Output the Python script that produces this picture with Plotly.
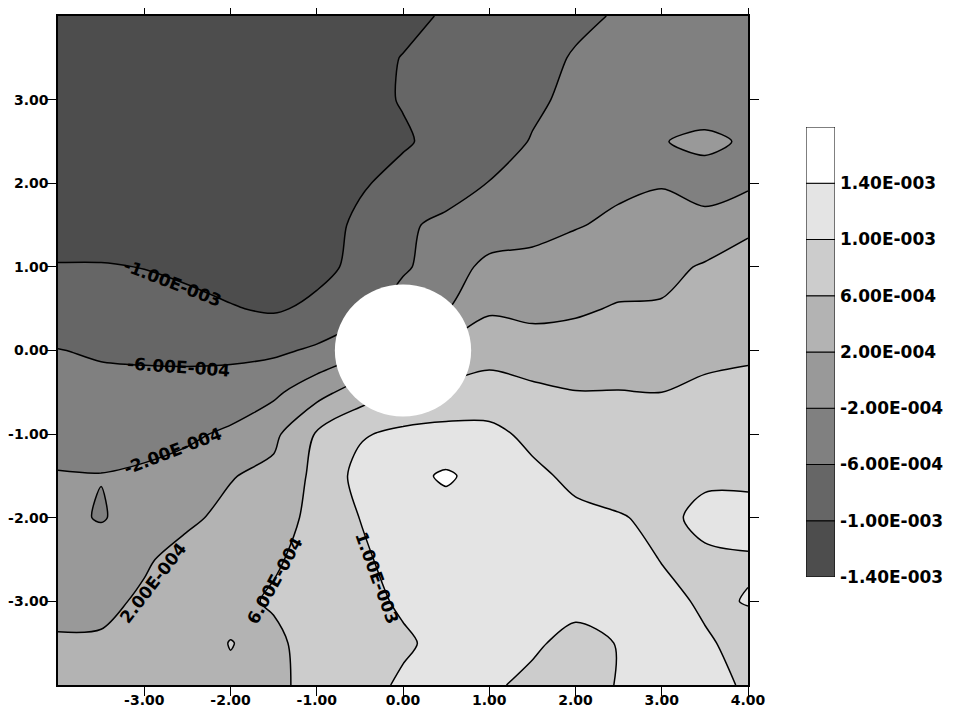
import plotly.graph_objects as go

# ---------------- data ----------------
x_vals = [-4.0, -3.5, -3.0, -2.5, -2.0, -1.5, -1.0, -0.5, 0.0, 0.5, 1.0, 1.5, 2.0, 2.5, 3.0, 3.5, 4.0]
y_top_down = [4.0, 3.5, 3.0, 2.5, 2.0, 1.5, 1.0, 0.5, 0.0, -0.5, -1.0, -1.5, -2.0, -2.5, -3.0, -3.5, -4.0]

# field values in units of 1E-004, rows from y = 4 (top) down to y = -4 (bottom)
z_rows_e4 = [
    [-12.5, -12.5, -12.5, -12.5, -12.5, -12.3, -12.0, -11.5, -10.8, -9.7, -8.7, -7.8, -6.5, -5.8, -5.0, -4.6, -4.3],
    [-12.5, -12.5, -12.5, -12.5, -12.5, -12.4, -12.0, -11.0, -9.9, -8.9, -7.8, -6.8, -5.8, -5.1, -4.2, -3.8, -3.5],
    [-12.5, -12.5, -12.5, -12.5, -12.5, -12.4, -12.0, -11.0, -9.8, -8.7, -7.6, -6.6, -5.2, -4.3, -3.5, -3.3, -3.0],
    [-12.5, -12.5, -12.5, -12.5, -12.5, -12.3, -11.8, -11.2, -10.4, -8.9, -7.6, -5.8, -4.3, -3.3, -2.1, -1.5, -2.3],
    [-12.5, -12.5, -12.5, -12.5, -12.3, -12.0, -11.3, -10.4, -8.9, -7.4, -5.9, -4.4, -3.2, -2.6, -2.2, -3.0, -2.8],
    [-12.6, -12.6, -12.5, -12.5, -12.4, -12.2, -11.6, -9.3, -6.5, -5.3, -4.2, -3.1, -2.2, -1.4, -0.7, -1.2, 1.5],
    [-9.7, -9.7, -10.1, -10.8, -11.3, -11.7, -10.9, -9.2, -6.6, -3.8, -1.0, -1.0, -0.4, 0.4, 0.8, 2.45, 3.1],
    [-8.2, -8.1, -8.4, -8.9, -9.8, -10.4, -9.3, -7.5, -4.0, -2.3, 1.5, 1.0, 1.5, 2.3, 2.4, 3.85, 4.35],
    [-5.9, -6.4, -6.6, -6.8, -6.9, -6.7, -5.4, -3.0, 0.0, 3.0, 4.5, 3.8, 3.7, 4.2, 4.2, 5.2, 5.55],
    [-4.6, -4.9, -4.9, -4.7, -4.2, -2.8, 0.6, 4.0, 6.0, 7.0, 7.7, 6.8, 6.1, 6.1, 6.0, 6.6, 6.8],
    [-3.3, -3.3, -3.1, -2.6, -1.4, 1.1, 6.4, 9.6, 10.9, 11.3, 11.0, 9.1, 7.7, 7.4, 7.0, 8.0, 8.3],
    [-1.8, -1.9, -1.5, -0.6, 1.8, 3.0, 7.0, 11.2, 12.8, 14.5, 12.5, 10.8, 9.2, 8.7, 8.0, 9.6, 9.5],
    [-0.9, -2.3, -0.2, 1.4, 2.9, 4.2, 7.2, 10.05, 12.2, 12.5, 12.4, 12.2, 10.8, 10.2, 9.4, 10.6, 10.8],
    [0.2, 0.3, 1.6, 3.2, 3.9, 5.5, 7.5, 9.3, 11.5, 12.3, 12.5, 12.5, 12.2, 11.3, 9.9, 9.6, 9.8],
    [1.2, 1.2, 2.5, 3.8, 4.9, 6.5, 8.0, 9.1, 10.4, 12.0, 12.3, 12.0, 10.8, 11.3, 10.8, 9.6, 10.1],
    [2.3, 2.4, 3.6, 4.5, 6.1, 5.0, 8.0, 8.8, 9.6, 10.8, 11.2, 10.4, 9.2, 10.1, 10.4, 10.3, 9.2],
    [3.0, 3.0, 3.8, 4.4, 5.5, 5.0, 7.5, 9.0, 10.4, 10.3, 10.4, 9.4, 9.2, 10.1, 10.4, 10.5, 9.8],
]

# contour levels (units of 1E-004) and colour-bar tick labels
level_start = -10.0
level_end = 14.0
level_step = 4.0
cb_tick_vals = [-14, -10, -6, -2, 2, 6, 10, 14]
cb_tick_text = ["-1.40E-003", "-1.00E-003", "-6.00E-004", "-2.00E-004",
                "2.00E-004", "6.00E-004", "1.00E-003", "1.40E-003"]

x_tick_vals = [-3, -2, -1, 0, 1, 2, 3, 4]
x_tick_text = ["-3.00", "-2.00", "-1.00", "0.00", "1.00", "2.00", "3.00", "4.00"]
y_tick_vals = [-3, -2, -1, 0, 1, 2, 3]
y_tick_text = ["-3.00", "-2.00", "-1.00", "0.00", "1.00", "2.00", "3.00"]

# blank disc in the middle
circle_cx = 0.0
circle_cy = 0.0
circle_r = 0.79

# contour line labels
label_text = ["-1.00E-003", "-6.00E-004", "-2.00E-004", "2.00E-004", "6.00E-004", "1.00E-003"]
label_x = [-2.67, -2.60, -2.67, -2.90, -1.48, -0.30]
label_y = [0.81, -0.20, -1.20, -2.78, -2.75, -2.72]
label_angle = [21, 4, -21, -52, -61, 70]

# ---------------- styling / layout ----------------
band_colors = ["#4d4d4d", "#666666", "#808080", "#999999",
               "#b3b3b3", "#cccccc", "#e4e4e4", "#ffffff"]
n_b = len(band_colors)
colorscale = [[i / (n_b - 1), c] for i, c in enumerate(band_colors)]

y_vals = y_top_down[::-1]
z_vals = z_rows_e4[::-1]

# figure pixel geometry (the page adds an 8 px body margin)
W, H = 940, 700
main_left, main_right, main_top, main_bottom = 50, 740, 8, 677
cb_left, cb_right, cb_top, cb_bottom = 798, 827, 119, 569
M_L, M_T = main_left, main_top
M_R = W - cb_right
M_B = H - main_bottom
plot_w = W - M_L - M_R
plot_h = H - M_T - M_B

tick_font = dict(family="DejaVu Sans", size=14, color="black", weight="bold")
cb_font = dict(family="DejaVu Sans", size=17, color="black", weight="bold")
lbl_font = dict(family="DejaVu Sans", size=17, color="black", weight="bold")

fig = go.Figure()
fig.add_trace(go.Contour(
    x=x_vals, y=y_vals, z=z_vals,
    autocontour=False,
    contours=dict(start=level_start, end=level_end, size=level_step,
                  coloring="fill", showlines=True),
    line=dict(color="black", width=1.5, smoothing=0.85),
    colorscale=colorscale,
    showscale=False,
    hoverinfo="skip",
    xaxis="x", yaxis="y",
))

# colour bar drawn as stacked bands on its own small axis
fig.add_trace(go.Bar(
    x=[0] * len(cb_tick_vals), y=[level_step] * len(cb_tick_vals), base=cb_tick_vals,
    width=1, marker=dict(color=band_colors, line=dict(color="black", width=1)),
    xaxis="x2", yaxis="y2", hoverinfo="skip", showlegend=False,
))

fig.add_shape(type="circle", xref="x", yref="y",
              x0=circle_cx - circle_r, x1=circle_cx + circle_r,
              y0=circle_cy - circle_r, y1=circle_cy + circle_r,
              fillcolor="white", line=dict(width=0), layer="above")

for t, lx, ly, ang in zip(label_text, label_x, label_y, label_angle):
    fig.add_annotation(x=lx, y=ly, xref="x", yref="y", text=t, textangle=ang,
                       showarrow=False, font=lbl_font)

axis_common = dict(ticks="outside", ticklen=9, tickwidth=1, tickcolor="black",
                   showline=True, linecolor="black", linewidth=1.5, mirror="ticks",
                   showgrid=False, zeroline=False, tickfont=tick_font, automargin=False)

fig.update_layout(
    width=W, height=H,
    margin=dict(l=M_L, r=M_R, t=M_T, b=M_B, autoexpand=False),
    paper_bgcolor="white", plot_bgcolor="white",
    showlegend=False, barmode="overlay",
    xaxis=dict(domain=[0, (main_right - M_L) / plot_w], range=[-4, 4],
               tickmode="array", tickvals=x_tick_vals, ticktext=x_tick_text,
               anchor="y", ticklabelstandoff=-8, **axis_common),
    yaxis=dict(domain=[0, 1], range=[-4, 4],
               tickmode="array", tickvals=y_tick_vals, ticktext=y_tick_text,
               anchor="x", ticklabelstandoff=-4, **axis_common),
    xaxis2=dict(domain=[(cb_left - M_L) / plot_w, (cb_right - M_L) / plot_w],
                range=[-0.5, 0.5], visible=False, fixedrange=True, anchor="y2"),
    yaxis2=dict(domain=[(H - M_B - cb_bottom) / plot_h, (H - M_B - cb_top) / plot_h],
                range=[cb_tick_vals[0], cb_tick_vals[-1] + level_step],
                side="right", anchor="x2", tickmode="array",
                tickvals=cb_tick_vals, ticktext=cb_tick_text,
                ticks="", ticklabelstandoff=4, showline=False, showgrid=False,
                zeroline=False, tickfont=cb_font, fixedrange=True, automargin=False),
)

fig.write_html("out.html")
